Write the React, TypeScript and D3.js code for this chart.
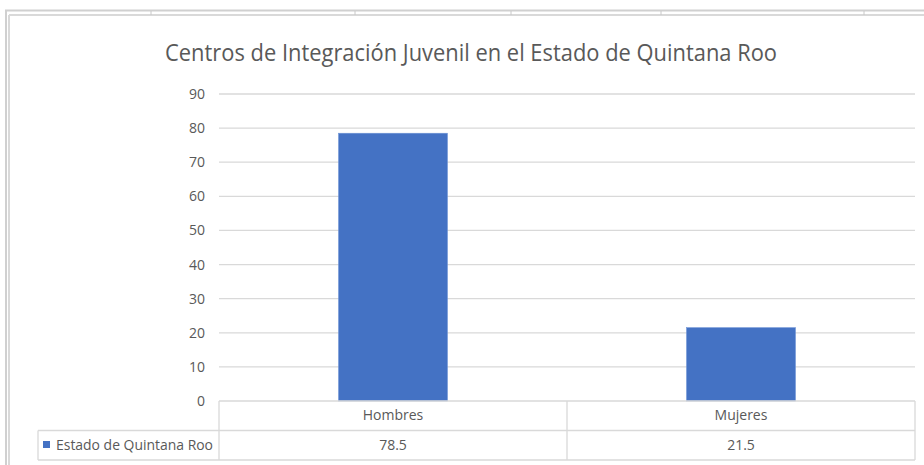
import React from 'react';
import * as d3 from 'd3';

// chart data
const categories = ['Hombres', 'Mujeres'];
const values = [78.5, 21.5];
const seriesName = 'Estado de Quintana Roo';
const yTicks = [0, 10, 20, 30, 40, 50, 60, 70, 80, 90];
const title = 'Centros de Integración Juvenil en el Estado de Quintana Roo';
// spreadsheet column marks peeking above the chart
const sheetCols = [151, 355, 511, 661, 864];

const FONT = '"Liberation Sans Narrow", "Open Sans", Roboto, sans-serif';
const TXT = '#595959';
const GRID = '#d9d9d9';
const BAR = '#4472c4';

const App = () => {
  const width = 924;
  const height = 465;
  const plot = { left: 219, right: 915, top: 94, bottom: 401 };
  const rowH = 29.5;
  const labelLeft = 38;

  const x = d3.scaleBand<string>()
    .domain(categories)
    .range([plot.left, plot.right])
    .paddingInner(0.687)
    .paddingOuter(0.3435);

  const y = d3.scaleLinear()
    .domain([0, 90])
    .range([plot.bottom, plot.top]);

  const colW = (plot.right - plot.left) / categories.length;

  return (
    <svg width={width} height={height} style={{ position: 'absolute', left: 0, top: 0, background: '#fff' }}>
      {/* sheet frame */}
      <line x1={5} x2={width} y1={10.5} y2={10.5} stroke="#d0d0d0" strokeWidth={2} />
      <line x1={9} x2={width} y1={15} y2={15} stroke="#d9d9d9" strokeWidth={2} />
      <line x1={6} x2={6} y1={10} y2={height} stroke="#d0d0d0" strokeWidth={2} />
      <line x1={9} x2={9} y1={15} y2={height} stroke="#d9d9d9" strokeWidth={2} />
      {sheetCols.map(c => (
        <line key={c} x1={c} x2={c} y1={11} y2={15} stroke="#c8c8c8" strokeWidth={1} />
      ))}

      <text x={471} y={61} textAnchor="middle" fontFamily={FONT} fontSize={23} fill={TXT}
        textLength={612} lengthAdjust="spacingAndGlyphs">{title}</text>

      {/* gridlines + y labels */}
      {yTicks.map(t => (
        <g key={t}>
          {t > 0 && (
            <line x1={plot.left} x2={plot.right} y1={y(t)} y2={y(t)} stroke={GRID} strokeWidth={1.3} />
          )}
          <text x={205} y={y(t) + 5} textAnchor="end" fontFamily={FONT} fontSize={14} fill={TXT}>{t}</text>
        </g>
      ))}

      {/* bars */}
      {categories.map((c, i) => (
        <rect key={c} x={x(c)} y={y(values[i])} width={x.bandwidth()} height={y(0) - y(values[i])}
          fill={BAR} stroke="#6f93d6" strokeWidth={0.6} />
      ))}

      {/* data table */}
      <g stroke={GRID} strokeWidth={1.3} fill="none">
        <line x1={plot.left} x2={plot.right} y1={plot.bottom} y2={plot.bottom} />
        <line x1={labelLeft} x2={plot.right} y1={plot.bottom + rowH} y2={plot.bottom + rowH} />
        <line x1={labelLeft} x2={plot.right} y1={plot.bottom + rowH * 2} y2={plot.bottom + rowH * 2} />
        <line x1={labelLeft} x2={labelLeft} y1={plot.bottom + rowH} y2={plot.bottom + rowH * 2} />
        {d3.range(categories.length + 1).map(i => (
          <line key={i} x1={plot.left + i * colW} x2={plot.left + i * colW} y1={plot.bottom} y2={plot.bottom + rowH * 2} />
        ))}
      </g>
      {categories.map((c, i) => (
        <g key={c}>
          <text x={plot.left + (i + 0.5) * colW} y={plot.bottom + 19} textAnchor="middle"
            fontFamily={FONT} fontSize={14} fill={TXT}>{c}</text>
          <text x={plot.left + (i + 0.5) * colW} y={plot.bottom + rowH + 19} textAnchor="middle"
            fontFamily={FONT} fontSize={14} fill={TXT}>{values[i]}</text>
        </g>
      ))}
      <rect x={43} y={plot.bottom + rowH + 10.5} width={7} height={7} fill={BAR} />
      <text x={56} y={plot.bottom + rowH + 19} fontFamily={FONT} fontSize={14} fill={TXT}
        textLength={157} lengthAdjust="spacingAndGlyphs">{seriesName}</text>
    </svg>
  );
};

export default App;
